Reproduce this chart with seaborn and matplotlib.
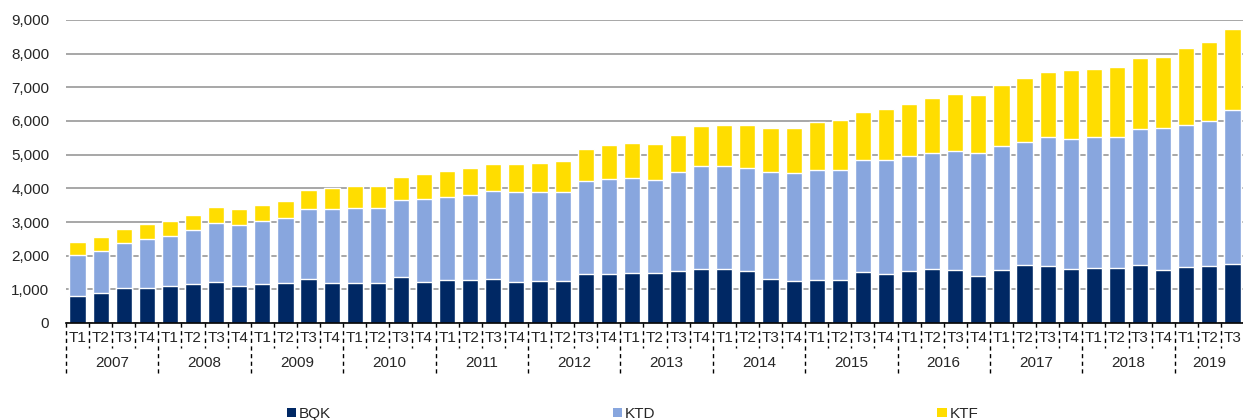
import matplotlib
matplotlib.use('Agg')
from matplotlib import pyplot as plt
from matplotlib.patches import Patch
import seaborn as sns
import numpy as np
import pandas as pd

years = [str(y) for y in range(2007, 2020)]
quarters = ['T1', 'T2', 'T3', 'T4']

bqk = [800, 900, 1030, 1050, 1100, 1170, 1230, 1110, 1170, 1190, 1300, 1200,
       1190, 1200, 1355, 1230, 1275, 1285, 1305, 1220, 1250, 1250, 1455, 1455,
       1475, 1475, 1545, 1615, 1615, 1545, 1315, 1250, 1275, 1275, 1525, 1465,
       1555, 1615, 1585, 1405, 1585, 1715, 1705, 1615, 1645, 1625, 1735, 1585,
       1675, 1685, 1760]
ktd = [1210, 1240, 1340, 1435, 1485, 1600, 1750, 1800, 1870, 1930, 2075, 2195,
       2235, 2225, 2290, 2460, 2470, 2505, 2625, 2670, 2640, 2650, 2765, 2830,
       2830, 2775, 2940, 3060, 3060, 3070, 3170, 3195, 3270, 3280, 3315, 3375,
       3415, 3425, 3525, 3645, 3680, 3670, 3820, 3860, 3870, 3890, 4035, 4205,
       4215, 4305, 4565]
ktf = [390, 405, 420, 455, 445, 440, 455, 465, 455, 505, 565, 625,
       645, 645, 690, 745, 770, 805, 795, 835, 860, 910, 950, 1000,
       1050, 1055, 1110, 1165, 1195, 1255, 1305, 1355, 1435, 1465, 1435, 1515,
       1545, 1635, 1690, 1720, 1815, 1890, 1940, 2030, 2020, 2090, 2100, 2100,
       2280, 2355, 2420]

colors = {'BQK': '#002864', 'KTD': '#88A6DE', 'KTF': '#FFDD00'}

labels = [f'{y}-{q}' for y in years for q in quarters][:len(bqk)]
df = pd.DataFrame({'period': labels, 'BQK': bqk, 'KTD': ktd, 'KTF': ktf})
df['lvl2'] = df['BQK'] + df['KTD']
df['lvl3'] = df['lvl2'] + df['KTF']

sns.set_style('white')
plt.rcParams['font.family'] = ['Liberation Sans', 'DejaVu Sans']

fig = plt.figure(figsize=(12.43, 4.2), dpi=100)
ax = fig.add_axes([66 / 1243, 97 / 420, 1178 / 1243, 303 / 420])

# stacked bars drawn as overlapping cumulative totals
for col, name in [('lvl3', 'KTF'), ('lvl2', 'KTD'), ('BQK', 'BQK')]:
    sns.barplot(data=df, x='period', y=col, color=colors[name], width=0.7,
                saturation=1, ax=ax, zorder=3)

ax.set_xlim(-0.5, len(df) - 0.5)
ax.set_ylim(0, 9000)
ax.set_yticks(range(0, 9001, 1000))
ax.set_yticklabels([f'{v:,}' for v in range(0, 9001, 1000)], fontsize=11)
ax.yaxis.grid(True, color='#a0a0a0', linewidth=1.3, zorder=0)
ax.set_axisbelow(True)
ax.tick_params(axis='y', length=0, pad=12)
ax.set_xticks([])
ax.set_xlabel('')
ax.set_ylabel('')
for s in ['left', 'right', 'top']:
    ax.spines[s].set_visible(False)
ax.spines['bottom'].set_color('black')
ax.spines['bottom'].set_linewidth(1.2)
ax.spines['bottom'].set_zorder(5)

# two-level category axis
trans = ax.get_xaxis_transform()
n = len(df)
for i in range(n):
    q = quarters[i % 4]
    ax.text(i, -15 / 303, q, transform=trans, ha='center', va='center', fontsize=11)
for b in range(n + 1):
    x = b - 0.5
    y_end = -50 / 303 if (b % 4 == 0 or b == n) else -25 / 303
    ax.plot([x, x], [0, y_end], transform=trans, color='black', linewidth=1,
            linestyle=(0, (3, 2.5)), clip_on=False)
for k, y in enumerate(years):
    start = k * 4 - 0.5
    end = min(k * 4 + 3.5, n - 0.5)
    ax.text((start + end) / 2, -40 / 303, y, transform=trans, ha='center',
            va='center', fontsize=11)

handles = [Patch(facecolor=colors[k], edgecolor='none', label=k) for k in ['BQK', 'KTD', 'KTF']]
fig.legend(handles=handles, loc='center', bbox_to_anchor=(0.5 + 11 / 1243, 6 / 420), ncol=3,
           frameon=False, fontsize=11, handlelength=0.6, handleheight=0.6,
           handletextpad=0.2, columnspacing=18.45)

fig.savefig('out.png', dpi=100)
plt.close(fig)
